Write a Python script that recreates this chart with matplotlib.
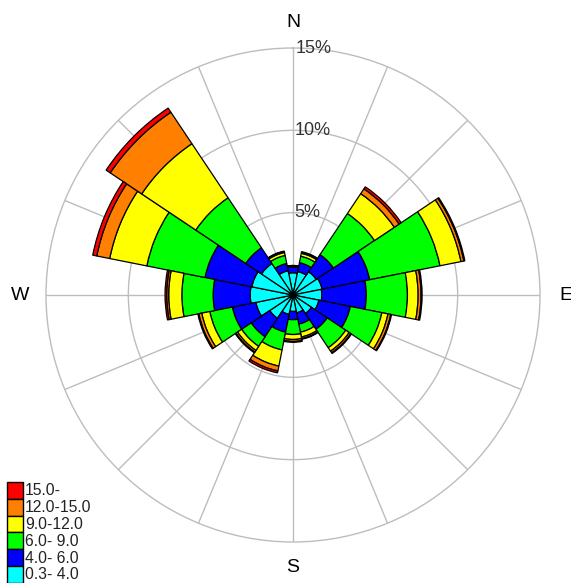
"""
Wind rose: frequency (%) of wind by direction and speed class.
"""

import numpy as np
import matplotlib.pyplot as plt
from matplotlib.patches import Rectangle

plt.rcParams['font.family'] = ['Liberation Sans', 'DejaVu Sans']

directions = ['N', 'NNE', 'NE', 'ENE', 'E', 'ESE', 'SE', 'SSE',
              'S', 'SSW', 'SW', 'WSW', 'W', 'WNW', 'NW', 'NNW']

# percent of hours per speed class, one value per direction
speed_03_40 = [1.35, 1.45, 1.7, 1.8, 1.75, 1.6, 1.35, 1.1,
               1.0, 1.2, 1.7, 2.3, 2.6, 2.55, 2.3, 1.5]
speed_40_60 = [0.35, 0.55, 1.25, 2.95, 2.7, 1.95, 1.15, 0.7,
               0.5, 1.1, 1.35, 1.45, 2.25, 2.9, 1.15, 0.45]
speed_60_90 = [0.06, 0.4, 3.0, 4.35, 2.5, 1.95, 1.35, 0.5,
               0.9, 1.1, 0.7, 1.4, 1.9, 3.6, 3.65, 0.5]
speed_90_120 = [0.02, 0.18, 1.45, 1.3, 0.65, 0.38, 0.25, 0.3,
                0.3, 1.0, 0.3, 0.5, 0.8, 2.3, 3.95, 0.18]
speed_120_150 = [0.01, 0.06, 0.35, 0.18, 0.18, 0.17, 0.12, 0.1,
                 0.12, 0.3, 0.12, 0.18, 0.12, 0.8, 2.3, 0.06]
speed_150 = [0.0, 0.04, 0.15, 0.06, 0.06, 0.05, 0.05, 0.04,
             0.05, 0.12, 0.05, 0.06, 0.1, 0.25, 0.3, 0.03]

classes = ['0.3- 4.0', '4.0- 6.0', '6.0- 9.0', '9.0-12.0', '12.0-15.0', '15.0-']
colors = ['#00ffff', '#0000ff', '#00ff00', '#ffff00', '#ff8000', '#ff0000']
series = [speed_03_40, speed_40_60, speed_60_90, speed_90_120,
          speed_120_150, speed_150]

ring_ticks = [5, 10, 15]
compass = {'N': 0, 'E': 90, 'S': 180, 'W': 270}

W, H = 571, 583
fig = plt.figure(figsize=(W / 100, H / 100), dpi=100)
cx, cy, rad = 293, 288, 247
ax = fig.add_axes([(cx - rad) / W, (cy - rad) / H, 2 * rad / W, 2 * rad / H],
                  projection='polar')
ax.set_theta_zero_location('N')
ax.set_theta_direction(-1)
ax.set_axisbelow(True)

theta = np.deg2rad(np.arange(len(directions)) * 22.5)
width = 2 * np.pi / len(directions)
bottom = np.zeros(len(directions))
for vals, col in zip(series, colors):
    ax.bar(theta, vals, width=width, bottom=bottom, color=col,
           edgecolor='black', linewidth=0.9, align='center')
    bottom += np.array(vals)

ax.set_ylim(0, 15)
ax.set_yticks(ring_ticks[:-1])
ax.set_yticklabels([])
ax.set_thetagrids(np.arange(0, 360, 22.5), labels=[])
ax.grid(color='#bdbdbd', linewidth=1)
ax.spines['polar'].set_color('#bdbdbd')
ax.spines['polar'].set_linewidth(1)
ax.tick_params(length=0)

for r in ring_ticks:
    ax.text(0.012, r, f'{r}%', fontsize=13, color='#333333',
            ha='left', va='center')

for name, deg in compass.items():
    ax.text(np.deg2rad(deg), 16.55, name, fontsize=14, ha='center',
            va='center', clip_on=False)

# legend, drawn in pixel coordinates
lg = fig.add_axes([0, 0, 1, 1], facecolor='none')
lg.set_xlim(0, W)
lg.set_ylim(H, 0)
lg.axis('off')
row_h = 16.8
top = 482
for i, (lab, col) in enumerate(zip(classes[::-1], colors[::-1])):
    y0 = top + i * row_h
    lg.add_patch(Rectangle((7, y0), 16, row_h, facecolor=col,
                           edgecolor='black', linewidth=1))
    lg.text(25, y0 + row_h / 2 + 0.5, lab, fontsize=11.3, color='#222222',
            ha='left', va='center')

fig.savefig('out.png', dpi=100)
